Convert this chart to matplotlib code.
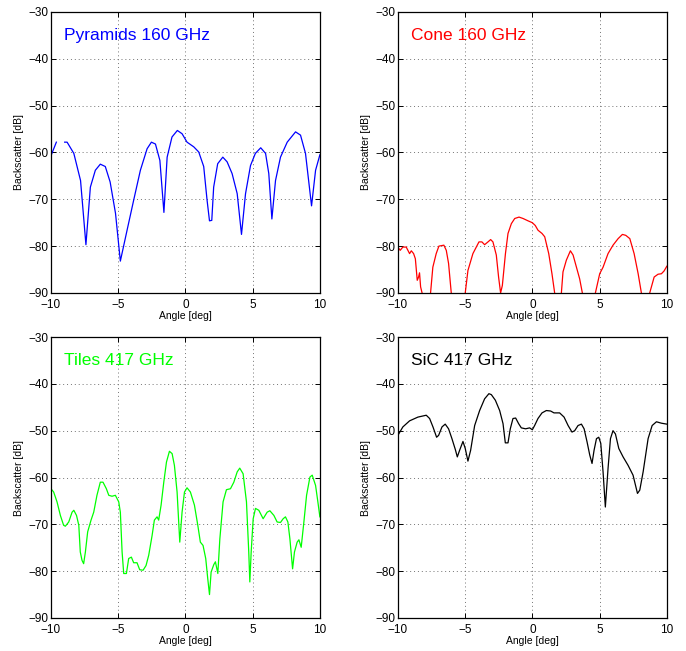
import numpy as np
import matplotlib
matplotlib.use("Agg")
import matplotlib.pyplot as plt

plt.rcParams['font.family'] = ['Liberation Sans', 'DejaVu Sans']

# Pyramids 160 GHz (blue); NaN marks the gap in the measurement
pyr_x = [-10, -9.6, -9.3, -8.98, -8.8, -8.3, -7.8, -7.4, -7.07, -6.7, -6.33, -5.96, -5.6, -5.2, -4.84,
         -4.34, -3.85, -3.35, -2.85, -2.53, -2.23, -1.9, -1.6, -1.36, -1.0, -0.6, -0.25, 0.12, 0.62,
         0.99, 1.36, 1.61, 1.79, 1.96, 2.1, 2.4, 2.78, 3.1, 3.47, 3.85, 4.17, 4.47, 4.84, 5.2, 5.6,
         5.96, 6.2, 6.43, 6.7, 7.07, 7.57, 8.19, 8.56, 8.93, 9.38, 9.68, 10]
pyr_y = [-60.7, -57.8, np.nan, -57.8, -57.8, -60.2, -66, -79.7, -67.4, -63.8, -62.5, -63, -66.3, -73, -83.2,
         -76.6, -70.2, -63.8, -59.2, -57.8, -58.2, -61.7, -72.8, -61, -56.7, -55.3, -56, -57.8, -58.8,
         -59.9, -63, -70.2, -74.6, -74.5, -67.4, -62.4, -61, -62, -64.5, -68.8, -77.5, -68.8, -62.8, -60.2, -59,
         -60.2, -64.5, -74.2, -66, -61, -57.8, -55.6, -56.3, -60.2, -71.4, -63.8, -60.5]

# Cone 160 GHz (red); dips fall below the -90 dB axis floor
cone_x = [-10, -9.83, -9.63, -9.38, -9.13, -9.0, -8.83, -8.7, -8.56, -8.46, -8.39, -8.31, -8.2, -7.9,
          -7.57, -7.4, -7.15, -6.95, -6.58, -6.4, -6.23, -6.03, -5.5,
          -4.99, -4.79, -4.42, -3.97, -3.75, -3.55, -3.3, -3.1, -2.93, -2.68, -2.51, -2.36, -2.23, -2.0,
          -1.81, -1.56, -1.31, -0.99, -0.69, -0.32, 0.0, 0.22, 0.42, 0.72, 0.92, 1.22, 1.46, 1.66, 1.9,
          2.16, 2.28, 2.53, 2.83, 3.03, 3.28, 3.52, 3.72, 4.2,
          4.69, 5.01, 5.26, 5.63, 6.0, 6.38, 6.7, 6.95, 7.25, 7.57, 7.87, 8.11, 8.4,
          8.73, 9.06, 9.35, 9.6, 9.8, 10]
cone_y = [-80.2, -80.9, -80.2, -80.2, -81.6, -81, -81.6, -82.7, -87.3, -86.6, -85.7, -88.7, -90, -96,
          -90, -84.5, -81.6, -80, -79.8, -80.9, -83.7, -90, -96,
          -90, -85.2, -81.6, -79.1, -79.1, -79.7, -79.1, -78.6, -79.1, -81.9, -86.6, -90, -88.4, -81.6,
          -77.3, -75.2, -74.1, -73.8, -74.1, -74.6, -75, -75.6, -76.6, -77.3, -78, -81.6, -85.9, -90, -96,
          -90, -85.5, -83, -81, -81.9, -84.5, -87, -90, -96,
          -90, -85.9, -84.5, -81.6, -79.8, -78.4, -77.5, -77.7, -78.4, -81.6, -85.9, -90, -96,
          -90, -86.6, -86, -85.9, -85.3, -84.3]

# Tiles 417 GHz (green)
tile_x = [-10, -9.8, -9.55, -9.3, -9.06, -8.93, -8.68, -8.43, -8.3, -8.1, -7.93, -7.82, -7.69, -7.57,
          -7.44, -7.27, -7.02, -6.82, -6.58, -6.33, -6.13, -5.88, -5.7, -5.46, -5.21, -4.96, -4.84,
          -4.71, -4.59, -4.39, -4.22, -4.02, -3.85, -3.6, -3.4, -3.15, -2.93, -2.73, -2.48, -2.31,
          -2.11, -1.99, -1.81, -1.61, -1.41, -1.19, -0.99, -0.82, -0.62, -0.42, -0.25, -0.07, 0.12,
          0.37, 0.67, 0.92, 1.11, 1.31, 1.51, 1.66, 1.79, 1.91, 2.11, 2.23, 2.41, 2.56, 2.8, 3.05,
          3.35, 3.6, 3.85, 4.04, 4.29, 4.54, 4.71, 4.79, 4.89, 5.04, 5.21, 5.46, 5.78, 6.08, 6.28,
          6.58, 6.82, 7.07, 7.27, 7.44, 7.62, 7.77, 7.97, 8.11, 8.31, 8.44, 8.61, 8.81, 9.01, 9.26,
          9.43, 9.68, 9.85, 10]
tile_y = [-62.4, -63.1, -65.2, -68.1, -70.2, -70.4, -69.5, -67.4, -67, -68.1, -70.2, -75.9, -77.7, -78.4,
          -75.9, -71.6, -69.1, -67.4, -63.8, -61, -61, -62.4, -63.8, -64, -63.8, -65.2, -67.4,
          -75.9, -80.5, -80.5, -77.3, -77, -78.2, -78.2, -79.7, -79.8, -78.8, -76.6, -72.4, -69.1,
          -68.4, -69.1, -65.9, -61, -56.7, -54.4, -54.9, -57.4, -63.1, -73.8, -67.4, -63.1, -62.2,
          -63.1, -65.9, -70.2, -73.8, -74.5, -77.3, -81.6, -85, -80.2, -78.6, -78, -80.5, -73.1, -65.2, -62.6,
          -62.4, -61, -58.8, -58, -59.2, -65.2, -75.9, -82.3, -75.9, -68.8, -66.6, -67, -68.8, -67.4, -67.1,
          -68.1, -69.5, -69.6, -68.8, -68.4, -69.5, -73.1, -79.5, -75.9, -73.8, -73.3, -74.9, -69.5, -63.8, -59.9,
          -59.5, -61.7, -65.2, -68.4]

# SiC 417 GHz (black)
sic_x = [-10, -9.63, -9.13, -8.51, -7.89, -7.64, -7.39, -7.12, -6.97, -6.72, -6.48, -6.23, -5.98, -5.73,
         -5.58, -5.41, -5.16, -4.99, -4.79, -4.59, -4.29, -3.92, -3.55, -3.23, -3.05, -2.75, -2.43,
         -2.18, -2.01, -1.81, -1.64, -1.44, -1.24, -1.02, -0.82, -0.5, -0.2, 0.0, 0.17, 0.42, 0.72,
         1.04, 1.36, 1.61, 2.03, 2.36, 2.66, 2.95, 3.15, 3.4, 3.65, 3.85, 4.07, 4.27, 4.44, 4.59,
         4.77, 4.94, 5.09, 5.26, 5.43, 5.63, 5.81, 6.0, 6.18, 6.43, 6.75, 7.12, 7.49, 7.82, 7.99,
         8.24, 8.61, 8.91, 9.23, 9.6, 10]
sic_y = [-51, -49.2, -47.9, -47.1, -46.7, -47.4, -49.2, -51.4, -51, -49.2, -48.6, -49.6, -51.7, -54,
         -55.6, -54.2, -52.3, -53.8, -56.5, -54.2, -48.9, -45.7, -43.2, -42.1, -42.3, -43.5, -45.7,
         -48.5, -52.6, -52.6, -49.6, -47.4, -47.3, -48.5, -49.4, -49.6, -49.4, -49.8, -48.9, -47.4, -46.2,
         -45.7, -45.8, -46.2, -46.2, -47.1, -48.9, -50.3, -50, -48.9, -48.6, -49.6, -52.4, -55.2, -57, -54.2,
         -51.7, -51.4, -52.7, -58.8, -66.3, -58.1, -51.7, -50, -50.7, -53.8, -55.6, -57.4, -59.5, -63.4, -62.7,
         -58.8, -51.7, -48.9, -48.1, -48.4, -48.6]

panels = [
    (pyr_x, pyr_y, 'Pyramids 160 GHz', (0, 0, 1)),
    (cone_x, cone_y, 'Cone 160 GHz', (1, 0, 0)),
    (tile_x, tile_y, 'Tiles 417 GHz', (0, 1, 0)),
    (sic_x, sic_y, 'SiC 417 GHz', (0, 0, 0)),
]

fig = plt.figure(figsize=(6.86, 6.51), dpi=100)
lefts = [0.0743, 0.580]
bottoms = [0.550, 0.0507]
w, h = 0.392, 0.4316

for i, (x, y, name, col) in enumerate(panels):
    ax = fig.add_axes([lefts[i % 2], bottoms[i // 2], w, h])
    ax.plot(x, y, color=col, linewidth=0.9)
    ax.set_xlim(-10, 10)
    ax.set_ylim(-90, -30)
    ax.set_xticks([-10, -5, 0, 5, 10])
    ax.set_yticks(np.arange(-90, -29, 10))
    ax.grid(True, color='0.45', linestyle=(0, (1, 3)), linewidth=0.7)
    ax.tick_params(direction='in', top=True, right=True, length=3.5, width=0.7,
                   labelsize=8.5, colors='black')
    ax.tick_params(axis='x', pad=4.5)
    ax.tick_params(axis='y', pad=2.0)
    for s in ax.spines.values():
        s.set_linewidth(0.9)
    ax.set_xlabel('Angle [deg]', fontsize=7.5, labelpad=0)
    ax.set_ylabel('Backscatter [dB]', fontsize=7.5, labelpad=3)
    ax.text(-9.0, -35, name, color=col, fontsize=12.5, va='center', ha='left')

fig.savefig('out.png', dpi=100)
